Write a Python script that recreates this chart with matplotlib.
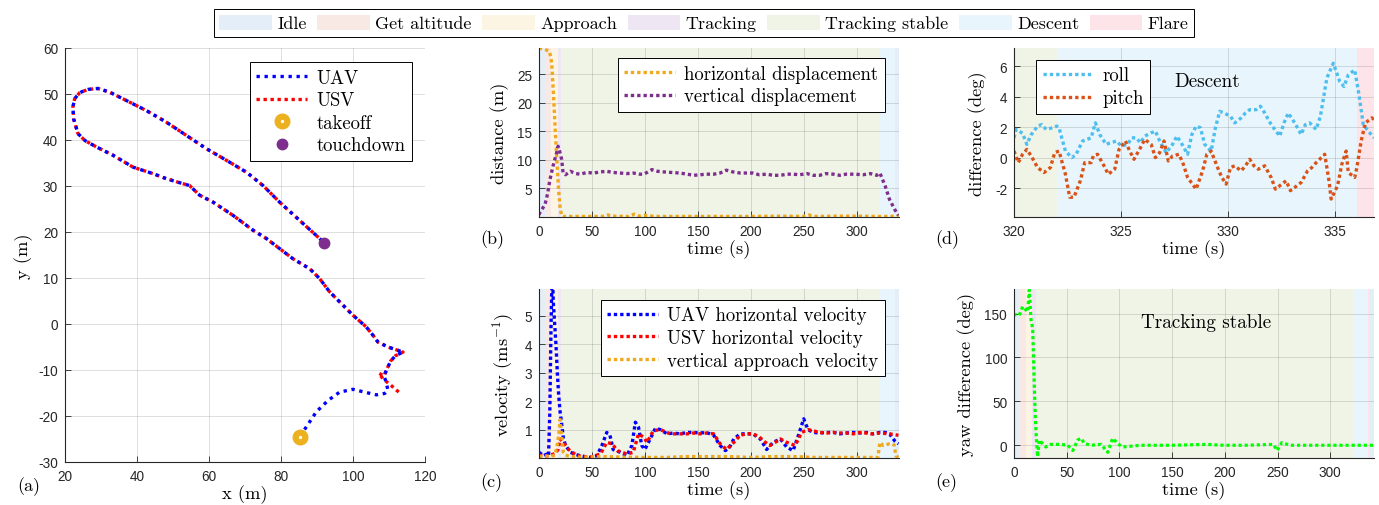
import matplotlib
matplotlib.use('Agg')
import matplotlib.pyplot as plt
from matplotlib.patches import Patch
from matplotlib.lines import Line2D

plt.rcParams['font.family'] = ['Liberation Sans', 'DejaVu Sans']
plt.rcParams['mathtext.fontset'] = 'cm'
plt.rcParams['axes.unicode_minus'] = False
SERIF = 'cmr10'

# ---------------- phases ----------------
phase_names = ['Idle', 'Get altitude', 'Approach', 'Tracking', 'Tracking stable', 'Descent', 'Flare']
phase_colors = ['#e3eef8', '#f9e9e5', '#fdf5e4', '#efe6f3', '#eff4e6', '#e8f5fc', '#fde4e8']
seg_phase = [0, 1, 2, 3, 4, 5, 6, 0]
seg_start = [0, 6, 11, 17.5, 21, 322, 336, 336.8]
seg_end = [6, 11, 17.5, 21, 322, 336, 336.8, 345]

# ---------------- (a) trajectory ----------------
uav_pre_x = [85.3, 87.0, 89.8, 93.1, 96.3, 100.0, 103.7, 106.5, 108.8, 109.7, 109.2, 108.6]
uav_pre_y = [-24.4, -22.4, -19.1, -16.6, -14.8, -14.2, -14.9, -15.4, -15.1, -14.4, -12.6, -11.3]
usv_pre_x = [112.7, 110.5, 108.3, 107.2, 108.6]
usv_pre_y = [-14.8, -13.3, -11.9, -10.7, -11.3]
shared_x = [109.6, 110.5, 111.8, 113.9, 112.0, 109.7, 106.9, 105.6, 103.7, 100.0, 96.3, 93.5, 90.7,
            88.0, 83.3, 79.6, 75.9, 72.2, 66.7, 61.1, 57.4, 54.6, 51.9, 48.1, 44.4, 38.9, 33.3,
            28.7, 25.5, 23.6, 22.4, 22.2, 22.7, 24.1, 26.4, 29.2, 32.4, 37.0, 42.6, 48.1, 53.7,
            59.3, 64.8, 70.4, 75.0, 79.6, 85.2, 90.7, 91.6]
shared_y = [-9.5, -8.0, -6.9, -6.1, -5.6, -5.0, -3.9, -2.5, -0.65, 1.9, 4.8, 7.0, 9.9,
            12.0, 14.2, 16.4, 18.6, 20.4, 23.6, 26.5, 28.0, 30.1, 30.7, 31.6, 32.7, 34.1, 36.7,
            38.5, 39.9, 41.4, 44.6, 47.2, 49.0, 50.3, 51.0, 51.2, 50.4, 48.6, 46.4, 43.9, 41.0,
            38.1, 35.6, 33.0, 30.1, 26.5, 22.5, 18.6, 17.9]
takeoff_xy = (85.3, -24.6)
touchdown_xy = (91.9, 17.7)

# ---------------- (b) displacement ----------------
t_hd = [0, 5, 10, 12, 13.5, 15, 16.7, 18.4, 20, 21.5, 23, 30, 45, 60, 65, 70, 85, 90, 95, 100, 110,
        130, 150, 170, 200, 230, 250, 255, 260, 280, 300, 320, 330, 336, 340]
hd = [29.6, 29.4, 29.0, 27.0, 22.0, 16.5, 10.5, 5.0, 1.5, 0.2, 0.1, 0.1, 0.1, 0.1, 0.35, 0.15, 0.1, 0.5,
      0.15, 0.3, 0.1, 0.1, 0.1, 0.1, 0.1, 0.15, 0.1, 0.35, 0.1, 0.15, 0.15, 0.1, 0.1, 0.15, 0.25]
t_vd = [0, 0.9, 3, 5.7, 8, 10.4, 13.2, 16.7, 18, 19.5, 21.4, 22.7, 25, 29.6, 35, 39, 45, 51.6, 58, 64,
        70, 76.7, 83, 89, 95, 98.7, 102, 106.6, 112, 117.6, 125, 133, 140, 146, 152, 158, 165, 171,
        177, 183, 190, 196, 202, 208, 215, 221, 228, 234, 240, 246, 253, 259, 265, 271, 278, 284,
        290, 298, 306, 313, 319, 322, 327, 331, 336, 339.5]
vd = [0.4, 0.8, 1.4, 2.2, 4.0, 6.6, 8.9, 11.3, 12.4, 11.5, 10.1, 7.8, 7.4, 8.0, 7.6, 7.5, 7.8, 7.7, 7.9,
      8.0, 7.8, 7.7, 7.6, 7.7, 7.5, 7.5, 7.8, 8.3, 8.0, 7.9, 7.8, 7.7, 7.5, 7.3, 7.4, 7.5, 7.5, 7.7,
      8.2, 7.9, 7.7, 7.7, 7.7, 7.4, 7.5, 7.3, 7.3, 7.5, 7.5, 7.4, 7.6, 7.3, 7.3, 7.6, 7.5, 7.3, 7.5,
      7.5, 7.4, 7.6, 7.3, 7.7, 5.4, 3.1, 1.3, 0.3]

# ---------------- (c) velocity ----------------
t_uav = [0, 4.4, 7.5, 9, 10.2, 11.3, 12.5, 13.5, 16, 17.3, 18.6, 19.8, 21.4, 23, 25, 29.6, 35, 39, 48,
         54.7, 59.4, 64, 67, 70, 76.7, 83, 87.7, 91, 94, 97, 100, 105, 110, 114.5, 121, 127, 133, 140,
         146, 152, 158, 165, 171, 176, 180, 184, 190, 196, 202, 209, 215, 221, 228, 234, 240, 245,
         250, 254, 259, 265, 272, 278, 284, 290, 297, 303, 309, 315, 322, 327, 331, 336, 339.5]
v_uav = [0.2, 0.08, 0.14, 0.08, 1.6, 4.5, 6.8, 5.5, 4.0, 3.0, 2.2, 1.67, 1.2, 0.7, 0.45, 0.2, 0.12, 0.08,
         0.02, 0.08, 0.44, 0.9, 0.8, 0.3, 0.2, 0.08, 0.44, 1.26, 1.08, 0.44, 0.3, 0.67, 1.05, 1.0, 0.85,
         0.88, 0.85, 0.9, 0.9, 0.88, 0.9, 0.8, 0.44, 0.26, 0.38, 0.67, 0.85, 0.85, 0.85, 0.67, 0.3,
         0.55, 0.67, 0.38, 0.26, 0.8, 1.38, 1.0, 0.9, 0.88, 0.9, 0.9, 0.85, 0.88, 0.9, 0.88, 0.9, 0.85,
         0.9, 0.9, 0.85, 0.6, 0.5]
t_usv = [0, 5, 10, 15, 18, 20, 23, 28, 36, 48, 58, 64, 69, 74, 83, 89, 94, 99, 102, 108, 114.5, 124,
         133, 140, 146, 152, 158, 165, 171, 177, 184, 190, 196, 202, 208, 212, 218, 223, 228, 234,
         242, 248, 254, 259, 265, 272, 278, 284, 290, 297, 303, 309, 315, 322, 331, 339.5]
v_usv = [0.1, 0.05, 0.1, 0.15, 0.3, 0.67, 0.55, 0.3, 0.08, 0.02, 0.14, 0.55, 0.5, 0.26, 0.14, 0.2,
         0.85, 0.73, 0.55, 0.96, 1.0, 0.85, 0.85, 0.85, 0.88, 0.85, 0.88, 0.85, 0.5, 0.3, 0.55, 0.8,
         0.85, 0.85, 0.75, 0.6, 0.44, 0.55, 0.67, 0.55, 0.44, 0.9, 1.0, 0.96, 0.9, 0.88, 0.9, 0.88,
         0.88, 0.85, 0.9, 0.88, 0.85, 0.88, 0.85, 0.8]
t_va = [0, 5, 10, 15, 17, 18.6, 20, 21, 21.7, 23, 25, 30, 40, 60, 80, 100, 120, 140, 180, 200, 220,
        240, 260, 300, 320, 322, 325, 331, 334, 335.5, 337, 339.5]
va = [0.05, 0.08, 0.05, 0.1, 0.4, 0.8, 1.35, 0.9, 0.67, 0.2, 0.1, 0.05, 0.03, 0.05, 0.03, 0.02, 0.02,
      0.05, 0.05, 0.02, 0.05, 0.05, 0.02, 0.02, 0.02, 0.55, 0.44, 0.5, 0.5, 0.45, 0.08, 0.02]

# ---------------- (d) roll / pitch ----------------
t_roll = [320, 320.1, 320.4, 320.6, 320.8, 321.1, 321.3, 321.5, 321.8, 322.0, 322.1, 322.4, 322.7,
          322.9, 323.2, 323.6, 323.8, 324.0, 324.3, 324.5, 324.8, 325.0, 325.3, 325.5, 325.7, 325.9,
          326.1, 326.4, 326.6, 326.8, 327.1, 327.4, 327.6, 327.8, 328.1, 328.3, 328.5, 328.7, 328.9,
          329.2, 329.4, 329.6, 329.8, 330.1, 330.3, 330.6, 330.8, 331.0, 331.3, 331.5, 331.7, 332.0,
          332.4, 332.6, 332.8, 333.1, 333.4, 333.6, 333.8, 334.1, 334.3, 334.6, 334.9, 335.2, 335.4,
          335.6, 335.9, 336.1, 336.3, 336.6, 336.8]
roll = [1.3, 1.85, 1.6, 0.87, 1.5, 2.07, 2.17, 1.85, 1.96, 2.07, 1.96, 0.43, 0.0, 0.22, 1.09, 1.3,
        2.28, 1.52, 0.87, 0.98, 1.09, 0.76, 0.87, 1.3, 1.3, 0.98, 1.41, 1.63, 1.74, 1.09, 0.33, 0.87,
        1.41, 0.98, 0.22, 1.52, 2.07, 1.96, 0.87, 0.43, 1.96, 3.04, 2.93, 2.72, 2.28, 2.61, 2.93, 3.15,
        3.15, 3.37, 2.93, 2.17, 1.41, 2.28, 2.93, 2.28, 1.52, 2.17, 2.28, 1.85, 2.72, 5.22, 6.2, 5.0,
        4.67, 5.43, 5.76, 4.13, 2.17, 1.63, 1.3]
t_pitch = [320, 320.2, 320.4, 320.6, 320.8, 321.1, 321.4, 321.7, 321.9, 322.1, 322.4, 322.6, 322.8,
           323.1, 323.3, 323.6, 323.7, 323.9, 324.2, 324.4, 324.7, 324.9, 325.2, 325.4, 325.6, 325.9,
           326.1, 326.4, 326.6, 326.8, 327.0, 327.2, 327.4, 327.7, 327.9, 328.1, 328.5, 328.8, 329.0,
           329.2, 329.5, 329.7, 329.9, 330.1, 330.3, 330.6, 330.8, 331.0, 331.2, 331.4, 331.7, 332.0,
           332.2, 332.5, 332.7, 332.9, 333.1, 333.4, 333.7, 333.9, 334.1, 334.5, 334.7, 334.8, 335.1,
           335.3, 335.5, 335.6, 335.9, 336.0, 336.2, 336.4, 336.7, 336.8]
pitch = [0.43, -0.33, 0.22, 0.54, 0.11, -0.65, -0.98, -0.65, 0.33, 0.43, -1.09, -2.6, -2.6, -1.5,
         -0.33, -0.33, 0.11, 0.22, -0.54, -1.09, -0.76, 0.54, 1.09, 0.43, -0.11, 0.65, 1.2, 0.87, 0.0,
         0.33, 1.09, -0.22, 0.11, 0.22, -0.43, -1.3, -2.07, -0.87, 0.22, 0.43, -0.65, -1.3, -1.74,
         -0.65, -0.54, -0.87, -0.54, -0.11, -0.54, -0.76, -0.54, -1.3, -2.07, -1.74, -1.52, -2.17,
         -1.96, -1.63, -0.87, -0.65, -0.33, 0.22, -1.52, -2.72, -1.85, -0.43, 0.43, -0.98, -1.3, -0.65,
         1.09, 2.28, 2.61, 2.5]

# ---------------- (e) yaw ----------------
t_yaw = [0, 0.3, 5, 8.2, 11.4, 13, 14.5, 15.3, 16.1, 17.7, 18.3, 19.2, 20.2, 21.5, 22.4, 24, 27, 30.3,
         35, 44.8, 51, 55.8, 60.5, 63.7, 66.8, 73, 82.6, 88.9, 93.6, 98.3, 103, 120, 150, 183, 199,
         220, 246, 249.6, 254, 262, 300, 341]
yaw = [150, 149, 148, 158, 154, 152, 177, 160, 143, 133, 108, 70, 32, 2, -13, 6, 2, -2, 1, 1, 0, -6, 6,
       8, 2, 0, 1, -8, 8, 2, -2, 0, 0, 1, 0, 0, 1, -6, 3, 0, 0, 0]

C_BLUE = '#0000ff'
C_RED = '#ff0000'
C_ORANGE = '#F0A81E'
C_PURPLE = '#7E2F8E'
C_TAKEOFF = '#EDB120'
C_ROLL = '#4DBEEE'
C_PITCH = '#D95319'
C_GREEN = '#00ff00'
DOT = (0, (1.0, 0.9))
LW = 2.4

W, H = 1379, 506
fig = plt.figure(figsize=(W / 100, H / 100), dpi=100)


def rect(l, t, r, b):
    return [l / W, 1 - b / H, (r - l) / W, (b - t) / H]


def style(ax):
    for s in ['top', 'right']:
        ax.spines[s].set_visible(False)
    for s in ['left', 'bottom']:
        ax.spines[s].set_color('#262626')
        ax.spines[s].set_linewidth(0.8)
    ax.tick_params(direction='in', length=4, width=0.6, colors='#262626', labelsize=9.8, pad=5)
    ax.grid(True, color='#262626', alpha=0.15, lw=0.7)
    ax.set_axisbelow(True)


def phases(ax, x0, x1):
    for p, s, e in zip(seg_phase, seg_start, seg_end):
        s2, e2 = max(s, x0), min(e, x1)
        if e2 > s2:
            ax.axvspan(s2, e2, color=phase_colors[p], lw=0, zorder=0.1)


def leg(ax, **kw):
    lg = ax.legend(prop={'family': SERIF, 'size': 13.5}, fancybox=False, framealpha=1,
                   edgecolor='black', borderaxespad=0, handlelength=2.7, handletextpad=0.5,
                   labelspacing=0.25, borderpad=0.35, **kw)
    lg.get_frame().set_linewidth(0.7)
    return lg


lab_kw = dict(fontfamily=SERIF, fontsize=13.3)

# ---- (a)
axa = fig.add_axes(rect(65, 49, 425, 463))
style(axa)
axa.plot(usv_pre_x + shared_x, usv_pre_y + shared_y, color=C_RED, lw=LW, ls=(0, (1.0, 1.1)),
         label='USV', zorder=2)
axa.plot(uav_pre_x + shared_x, uav_pre_y + shared_y, color=C_BLUE, lw=LW, ls=(0, (1.0, 1.4)),
         label='UAV', zorder=3)
axa.plot([takeoff_xy[0]], [takeoff_xy[1]], 'o', ms=7, mfc='white', mec=C_TAKEOFF, mew=4.5, ls='none',
         label='takeoff', zorder=5)
axa.plot([touchdown_xy[0]], [touchdown_xy[1]], 'o', ms=7.5, color=C_PURPLE, ls='none', label='touchdown',
         zorder=5)
axa.set_xlim(20, 120)
axa.set_ylim(-30, 60)
axa.set_xticks(range(20, 121, 20))
axa.set_yticks(range(-30, 61, 10))
axa.set_xlabel('x (m)', labelpad=1, **lab_kw)
axa.set_ylabel('y (m)', labelpad=4, **lab_kw)
h, l = axa.get_legend_handles_labels()
order = [1, 0, 2, 3]
leg(axa, handles=[h[i] for i in order], labels=[l[i] for i in order],
    loc='upper right', bbox_to_anchor=(0.964, 0.966))

# ---- (b)
axb = fig.add_axes(rect(539, 49, 899, 218))
style(axb)
phases(axb, 0, 340)
axb.plot(t_hd, hd, color=C_ORANGE, lw=LW, ls=DOT, label='horizontal displacement')
axb.plot(t_vd, vd, color=C_PURPLE, lw=LW, ls=DOT, label='vertical displacement')
axb.set_xlim(0, 340)
axb.set_ylim(0, 29.6)
axb.set_xticks(range(0, 301, 50))
axb.set_yticks([5, 10, 15, 20, 25])
axb.set_xlabel('time (s)', labelpad=1, **lab_kw)
axb.set_ylabel('distance (m)', labelpad=6, **lab_kw)
leg(axb, loc='upper right', bbox_to_anchor=(0.961, 0.94))

# ---- (c)
axc = fig.add_axes(rect(539, 290, 899, 459))
style(axc)
phases(axc, 0, 340)
axc.plot(t_uav, v_uav, color=C_BLUE, lw=LW, ls=DOT, label='UAV horizontal velocity')
axc.plot(t_usv, v_usv, color=C_RED, lw=LW, ls=DOT, label='USV horizontal velocity')
axc.plot(t_va, va, color=C_ORANGE, lw=LW, ls=DOT, label='vertical approach velocity')
axc.set_xlim(0, 340)
axc.set_ylim(0, 5.95)
axc.set_xticks(range(0, 301, 50))
axc.set_yticks([1, 2, 3, 4, 5])
axc.set_xlabel('time (s)', labelpad=1, **lab_kw)
axc.set_ylabel('velocity (ms$^{-1}$)', labelpad=6, **lab_kw)
leg(axc, loc='upper right', bbox_to_anchor=(0.961, 0.937))

# ---- (d)
axd = fig.add_axes(rect(1014, 49, 1374, 218))
style(axd)
phases(axd, 320, 336.8)
axd.plot(t_roll, roll, color=C_ROLL, lw=LW, ls=DOT, label='roll')
axd.plot(t_pitch, pitch, color=C_PITCH, lw=LW, ls=DOT, label='pitch')
axd.set_xlim(320, 336.8)
axd.set_ylim(-3.9, 7.2)
axd.set_xticks([320, 325, 330, 335])
axd.set_yticks([-2, 0, 2, 4, 6])
axd.set_xlabel('time (s)', labelpad=1, **lab_kw)
axd.set_ylabel('difference (deg)', labelpad=6, **lab_kw)
axd.text(329.0, 5.0, 'Descent', ha='center', va='center', fontfamily=SERIF, fontsize=13.8)
leg(axd, loc='upper left', bbox_to_anchor=(0.061, 0.929))

# ---- (e)
axe = fig.add_axes(rect(1014, 290, 1374, 459))
style(axe)
phases(axe, 0, 341.5)
axe.plot(t_yaw, yaw, color=C_GREEN, lw=2.3, ls=DOT)
axe.set_xlim(0, 341.5)
axe.set_ylim(-14.5, 178)
axe.set_xticks(range(0, 301, 50))
axe.set_yticks([0, 50, 100, 150])
axe.set_xlabel('time (s)', labelpad=1, **lab_kw)
axe.set_ylabel('yaw difference (deg)', labelpad=6, **lab_kw)
axe.text(182.6, 140, 'Tracking stable', ha='center', va='center', fontfamily=SERIF, fontsize=13.8)

# ---- panel labels
for txt, x, y in [('(a)', 17, 487), ('(b)', 480, 240), ('(c)', 480, 483), ('(d)', 935, 240), ('(e)', 935, 483)]:
    fig.text(x / W, 1 - y / H, txt, ha='left', va='center', fontfamily=SERIF, fontsize=13)

# ---- top phase legend
handles = [Patch(facecolor=c, edgecolor='none', label=n) for n, c in zip(phase_names, phase_colors)]
tl = fig.legend(handles=handles, loc='center', bbox_to_anchor=(704 / W, 1 - 24 / H), ncol=7,
                prop={'family': SERIF, 'size': 13}, fancybox=False, framealpha=1, edgecolor='black',
                handlelength=2.9, handleheight=0.95, handletextpad=0.3, columnspacing=0.6,
                borderpad=0.3)
tl.get_frame().set_linewidth(0.7)

fig.savefig('out.png', dpi=100)
